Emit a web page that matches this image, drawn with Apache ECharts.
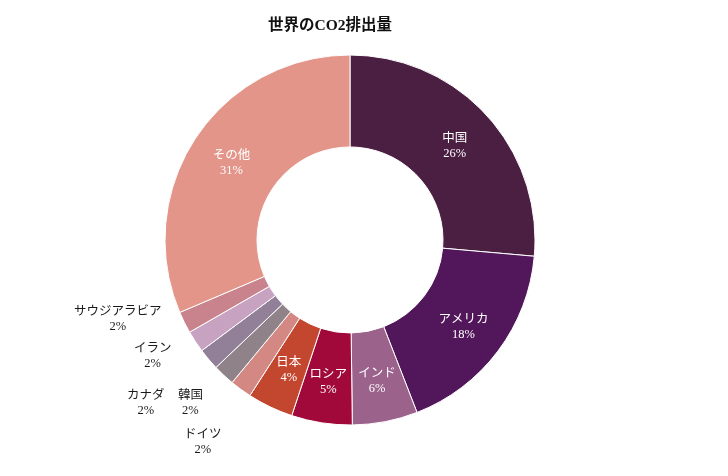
<!DOCTYPE html>
<html><head><meta charset="utf-8">
<script src="https://cdn.jsdelivr.net/npm/echarts@6/dist/echarts.min.js"></script>
<style>html,body{margin:0;padding:0;background:#fff}#c{width:728px;height:476px}</style>
</head><body><div id="c"></div>
<script>
const titleText = '世界のCO2排出量';
const categories = ['中国','アメリカ','インド','ロシア','日本','ドイツ','韓国','カナダ','イラン','サウジアラビア','その他'];
const values = [26.4, 17.7, 5.7, 5.3, 4.0, 1.9, 1.9, 1.9, 1.9, 1.9, 31.4];
const colors = ['#4a1f42','#52175a','#9b628c','#a1093a','#c3462f','#d38883','#8f8389','#927f98','#c8a3c1','#c9838c','#e3958a'];
const outsideLabel = [false,false,false,false,false,true,true,true,true,true,false];
// label line lengths used only to place the outside labels (lines are hidden)
const lineLen  = [0,0,0,0,0, 62.8, 35.1, 65, 22.7, -12.4, 0];
const lineLen2 = [0,0,0,0,0, -22.9, -8.1, -10.7, 0, 29, 0];

const FONT = '"Liberation Serif", "Noto Sans CJK JP", serif';
const data = categories.map((name, i) => {
  const item = { name, value: values[i], itemStyle: { color: colors[i] } };
  if (outsideLabel[i]) {
    item.label = { position: 'outside', color: '#1a1a1a' };
    item.labelLine = { show: false, length: lineLen[i], length2: lineLen2[i] };
  }
  return item;
});

const chart = echarts.init(document.getElementById('c'));
chart.setOption({
  backgroundColor: '#ffffff',
  animation: false,
  title: {
    text: titleText, left: 263, top: 13,
    textStyle: { fontFamily: FONT, fontSize: 15.5, fontWeight: 'bold', color: '#111' }
  },
  series: [{
    type: 'pie',
    center: [350, 240],
    radius: [93, 185],
    startAngle: 90,
    clockwise: true,
    avoidLabelOverlap: false,
    labelLayout: { hideOverlap: false },
    itemStyle: { borderColor: '#ffffff', borderWidth: 1 },
    label: {
      show: true,
      position: 'inside',
      color: '#ffffff',
      fontFamily: FONT,
      fontSize: 12,
      lineHeight: 15,
      padding: [4, 0, 0, 0],
      formatter: p => '{a|' + p.name + '}\n{a|' + Math.round(p.percent) + '%}',
      rich: { a: { align: 'center', fontFamily: FONT, fontSize: 12.5, lineHeight: 15 } }
    },
    labelLine: { show: false },
    data
  }]
});
</script></body></html>
